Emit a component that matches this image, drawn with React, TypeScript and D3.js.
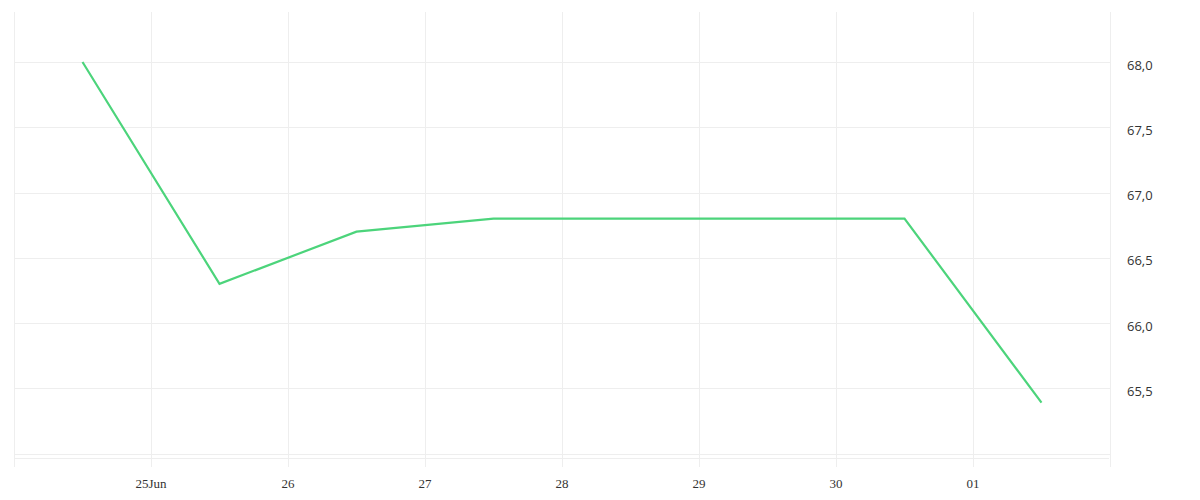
import { useMemo } from "react";
import * as d3 from "d3";

const width = 1200;
const height = 500;
const plot = { left: 14, right: 1110, top: 12, bottom: 458, gridBottom: 467 };

// daily values, sampled at noon
const dates = [
  "2023-06-24T12:00",
  "2023-06-25T12:00",
  "2023-06-26T12:00",
  "2023-06-27T12:00",
  "2023-06-28T12:00",
  "2023-06-29T12:00",
  "2023-06-30T12:00",
  "2023-07-01T12:00",
];
const values = [68.0, 66.3, 66.7, 66.8, 66.8, 66.8, 66.8, 65.39];
const yTicks = [65.0, 65.5, 66.0, 66.5, 67.0, 67.5, 68.0];
const xTickLabels = ["", "25Jun", "26", "27", "28", "29", "30", "01", ""];

type Point = { date: Date; value: number };

const App = () => {
  const { xScale, yScale, linePath, xTicks } = useMemo(() => {
    const points: Point[] = dates.map((d, i) => ({ date: new Date(d), value: values[i] }));

    const xScale = d3
      .scaleTime()
      .domain([new Date("2023-06-24T00:00"), new Date("2023-07-02T00:00")])
      .range([plot.left, plot.right]);

    const yScale = d3.scaleLinear().domain([65.0, 68.0]).range([453.5, 62]);

    const line = d3
      .line<Point>()
      .x((d) => xScale(d.date))
      .y((d) => yScale(d.value));

    const xTicks = xScale.ticks(d3.timeDay.every(1)!);

    return { xScale, yScale, linePath: line(points), xTicks };
  }, []);

  const fmt = (v: number) => v.toFixed(1).replace(".", ",");

  return (
    <svg
      width={width}
      height={height}
      style={{ position: "absolute", left: 0, top: 0, background: "#fff" }}
    >
      {/* vertical grid */}
      {xTicks.map((t, i) => (
        <line
          key={"vx" + i}
          x1={Math.round(xScale(t)) + 0.5}
          x2={Math.round(xScale(t)) + 0.5}
          y1={plot.top}
          y2={plot.gridBottom}
          stroke="#eeeeee"
        />
      ))}
      {/* horizontal grid */}
      {yTicks.map((v) => (
        <line
          key={"hy" + v}
          x1={plot.left}
          x2={plot.right}
          y1={Math.round(yScale(v)) + 0.5}
          y2={Math.round(yScale(v)) + 0.5}
          stroke="#eeeeee"
        />
      ))}
      <line
        x1={plot.left}
        x2={plot.right - 1}
        y1={plot.bottom + 0.5}
        y2={plot.bottom + 0.5}
        stroke="#eeeeee"
      />

      {/* y labels */}
      {yTicks
        .filter((v) => v > 65.0)
        .map((v) => (
          <text
            key={"yl" + v}
            x={1127}
            y={yScale(v)}
            dy="0.58em"
            fontFamily="'Open Sans', sans-serif"
            fontSize={13}
            fill="#333"
          >
            {fmt(v)}
          </text>
        ))}

      {/* x labels */}
      {xTicks.map((t, i) =>
        xTickLabels[i] ? (
          <text
            key={"xl" + i}
            x={xScale(t)}
            y={488}
            textAnchor="middle"
            fontFamily="serif"
            fontSize={13}
            fill="#333"
          >
            {xTickLabels[i]}
          </text>
        ) : null
      )}

      <path
        d={linePath ?? undefined}
        fill="none"
        stroke="#4cd47b"
        strokeWidth={2.2}
        strokeLinejoin="miter"
      />
    </svg>
  );
};

export default App;
